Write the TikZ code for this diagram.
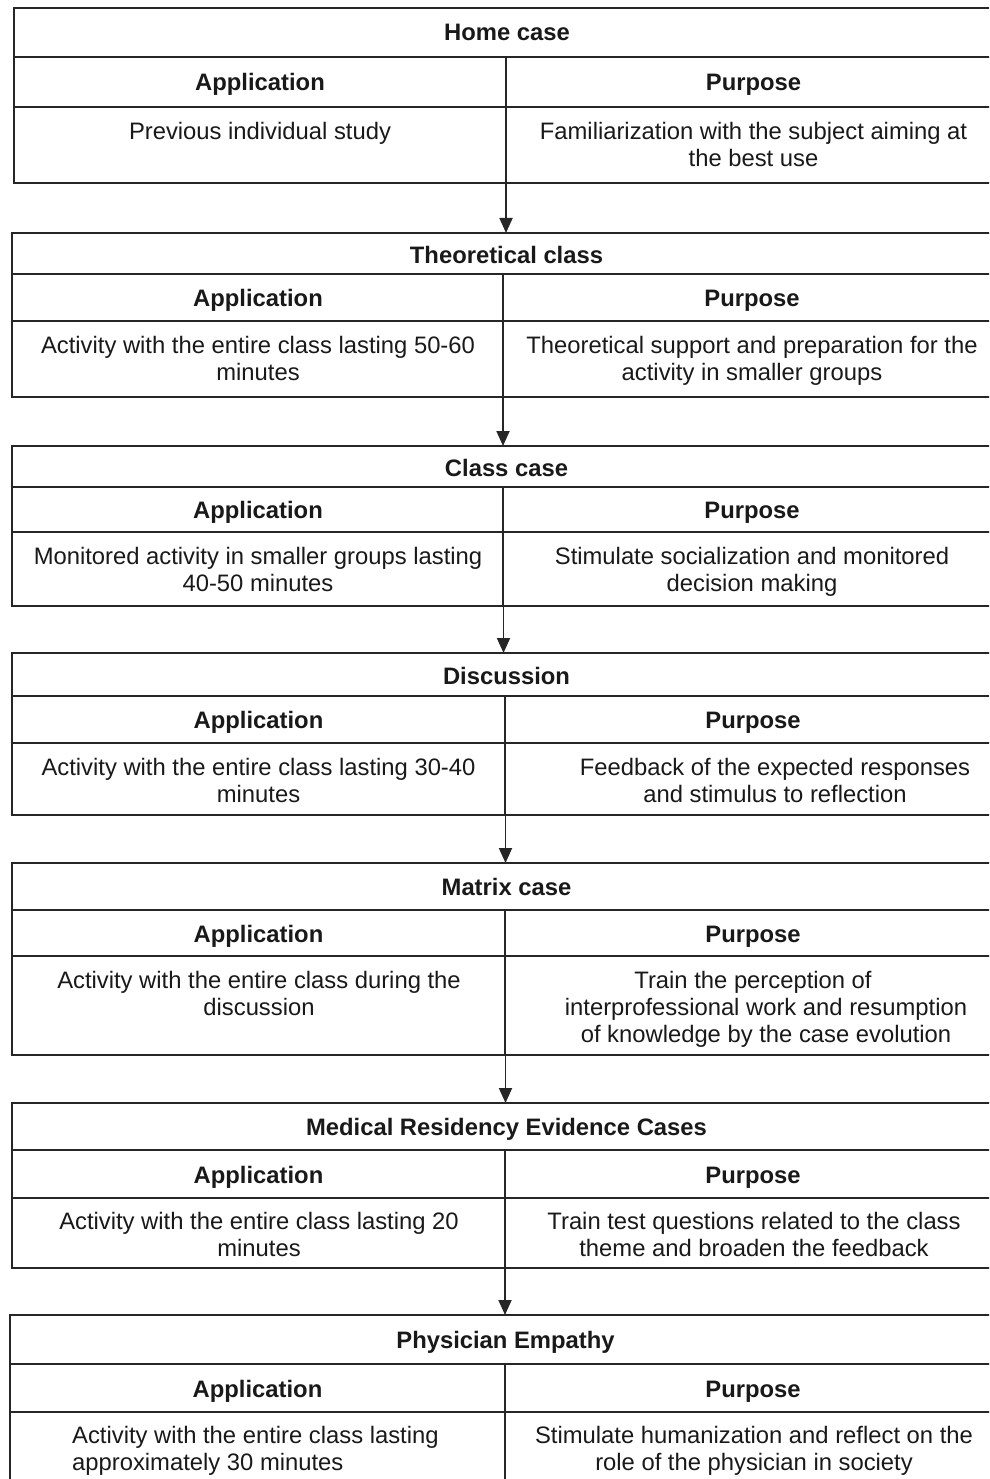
\documentclass[tikz,border=0pt]{standalone}
\usepackage{fontspec}
\setmainfont{Liberation Sans}
\usetikzlibrary{arrows.meta}
\begin{document}
\begin{tikzpicture}[x=1pt,y=-1pt,
  boxframe/.style={draw=black!85, line width=1.8pt, anchor=north west, inner sep=0pt, outer sep=0pt},
  rowrule/.style={draw=black!85, line width=1.8pt},
  arr/.style={draw=black!85, line width=1.8pt, -{Triangle[length=15pt,width=13pt]}},
  txt/.style={font=\fontsize{23.8}{27}\selectfont, text=black!90, inner sep=0pt, anchor=base, align=center},
  hd/.style={txt, font=\fontsize{23.8}{27}\selectfont\bfseries}]
\clip (0,0) rectangle (989,1479);
\fill[white] (0,0) rectangle (989,1479);

% ---------- Box 1: Home case
\node[boxframe, minimum width=987pt, minimum height=175pt] (B1) at (14,8) {};
\coordinate (v1) at (506,0);
\draw[rowrule] (14,57) -- (1001,57);
\draw[rowrule] (14,107) -- (1001,107);
\draw[rowrule] (506,57) -- (506,183);
\node[hd] (t1) at (507,41) {Home case};
\node[hd] (a1) at (260,90.5) {Application};
\node[hd] (p1) at (753.5,90.5) {Purpose};
\node[txt] (ac1) at (260,139.5) {Previous individual study};
\node[txt] (pc1) at (753.5,166.5) {Familiarization with the subject aiming at\\the best use};

% ---------- Box 2: Theoretical class
\node[boxframe, minimum width=989pt, minimum height=164pt] (B2) at (12,233) {};
\coordinate (v2) at (503,0);
\draw[rowrule] (12,274) -- (1001,274);
\draw[rowrule] (12,321) -- (1001,321);
\draw[rowrule] (503,274) -- (503,397);
\node[hd] (t2) at (506.5,263) {Theoretical class};
\node[hd] (a2) at (258,306) {Application};
\node[hd] (p2) at (752,306) {Purpose};
\node[txt] (ac2) at (258,380.5) {Activity with the entire class lasting 50-60\\minutes};
\node[txt] (pc2) at (752,380.5) {Theoretical support and preparation for the\\activity in smaller groups};

% ---------- Box 3: Class case
\node[boxframe, minimum width=989pt, minimum height=160pt] (B3) at (12,446) {};
\coordinate (v3) at (503.5,0);
\draw[rowrule] (12,487) -- (1001,487);
\draw[rowrule] (12,532) -- (1001,532);
\draw[rowrule] (503,487) -- (503,606);
\node[hd] (t3) at (506.5,476) {Class case};
\node[hd] (a3) at (258,518.5) {Application};
\node[hd] (p3) at (752,518.5) {Purpose};
\node[txt] (ac3) at (258,591.5) {Monitored activity in smaller groups lasting\\40-50 minutes};
\node[txt] (pc3) at (752,591.5) {Stimulate socialization and monitored\\decision making};

% ---------- Box 4: Discussion
\node[boxframe, minimum width=989pt, minimum height=162pt] (B4) at (12,653) {};
\coordinate (v4) at (505.5,0);
\draw[rowrule] (12,696) -- (1001,696);
\draw[rowrule] (12,743) -- (1001,743);
\draw[rowrule] (505,696) -- (505,815);
\node[hd] (t4) at (506.5,684) {Discussion};
\node[hd] (a4) at (258.5,728) {Application};
\node[hd] (p4) at (753,728) {Purpose};
\node[txt] (ac4) at (258.5,802.5) {Activity with the entire class lasting 30-40\\minutes};
\node[txt] (pc4) at (775,802.5) {Feedback of the expected responses\\and stimulus to reflection};

% ---------- Box 5: Matrix case
\node[boxframe, minimum width=989pt, minimum height=192pt] (B5) at (12,863) {};
\coordinate (v5) at (505.5,0);
\draw[rowrule] (12,910) -- (1001,910);
\draw[rowrule] (12,956) -- (1001,956);
\draw[rowrule] (505,910) -- (505,1055);
\node[hd] (t5) at (506.5,895) {Matrix case};
\node[hd] (a5) at (258.5,942) {Application};
\node[hd] (p5) at (753,942) {Purpose};
\node[txt] (ac5) at (259,1015.5) {Activity with the entire class during the\\discussion};
\node[txt] (pc5) at (766,1042.5) {Train the perception of\hspace*{26pt}\\interprofessional work and resumption\\of knowledge by the case evolution};

% ---------- Box 6: Medical Residency Evidence Cases
\node[boxframe, minimum width=989pt, minimum height=165pt] (B6) at (12,1103) {};
\coordinate (v6) at (505,0);
\draw[rowrule] (12,1150) -- (1001,1150);
\draw[rowrule] (12,1198) -- (1001,1198);
\draw[rowrule] (505,1150) -- (505,1268);
\node[hd] (t6) at (506.5,1135) {Medical Residency Evidence Cases};
\node[hd] (a6) at (258.5,1183) {Application};
\node[hd] (p6) at (753,1183) {Purpose};
\node[txt] (ac6) at (259,1256.5) {Activity with the entire class lasting 20\\minutes};
\node[txt] (pc6) at (754,1256.5) {Train test questions related to the class\\theme and broaden the feedback};

% ---------- Box 7: Physician Empathy
\node[boxframe, minimum width=991pt, minimum height=200pt] (B7) at (10,1315) {};
\draw[rowrule] (10,1364) -- (1001,1364);
\draw[rowrule] (10,1412) -- (1001,1412);
\draw[rowrule] (505,1364) -- (505,1515);
\node[hd] (t7) at (505.5,1348.5) {Physician Empathy};
\node[hd] (a7) at (257.5,1397) {Application};
\node[hd] (p7) at (753,1397) {Purpose};
\node[txt, anchor=base west, align=left] (ac7) at (72,1470.5) {Activity with the entire class lasting\\approximately 30 minutes};
\node[txt] (pc7) at (754,1470.5) {Stimulate humanization and reflect on the\\role of the physician in society};

% ---------- Connectors
\draw[arr] (B1.south -| v1) -- (B2.north -| v1);
\draw[arr] (B2.south -| v2) -- (B3.north -| v2);
\draw[arr] (B3.south -| v3) -- (B4.north -| v3);
\draw[arr] (B4.south -| v4) -- (B5.north -| v4);
\draw[arr] (B5.south -| v5) -- (B6.north -| v5);
\draw[arr] (B6.south -| v6) -- (B7.north -| v6);
\end{tikzpicture}
\end{document}
